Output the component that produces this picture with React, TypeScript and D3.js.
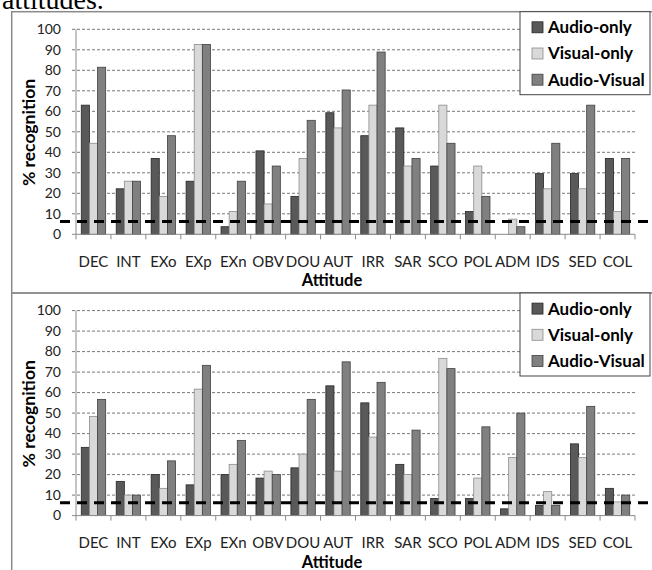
import React, { useEffect, useRef } from 'react'
import * as d3 from 'd3'

const categories = ['DEC', 'INT', 'EXo', 'EXp', 'EXn', 'OBV', 'DOU', 'AUT', 'IRR', 'SAR', 'SCO', 'POL', 'ADM', 'IDS', 'SED', 'COL']
const seriesNames = ['Audio-only', 'Visual-only', 'Audio-Visual']
const yTicks = [0, 10, 20, 30, 40, 50, 60, 70, 80, 90, 100]
const chanceLevel = 100 / 16

// upper panel (27 answers per attitude)
const topAudioOnly = [63.0, 22.2, 37.0, 25.9, 3.7, 40.7, 18.5, 59.3, 48.1, 51.9, 33.3, 11.1, 0, 29.6, 29.6, 37.0]
const topVisualOnly = [44.4, 25.9, 18.5, 92.6, 11.1, 14.8, 37.0, 51.9, 63.0, 33.3, 63.0, 33.3, 7.4, 22.2, 22.2, 11.1]
const topAudioVisual = [81.5, 25.9, 48.1, 92.6, 25.9, 33.3, 55.6, 70.4, 88.9, 37.0, 44.4, 18.5, 3.7, 44.4, 63.0, 37.0]

// lower panel (60 answers per attitude)
const bottomAudioOnly = [33.3, 16.7, 20.0, 15.0, 20.0, 18.3, 23.3, 63.3, 55.0, 25.0, 8.3, 8.3, 3.3, 5.0, 35.0, 13.3]
const bottomVisualOnly = [48.3, 10.0, 13.3, 61.7, 25.0, 21.7, 30.0, 21.7, 38.3, 20.0, 76.7, 18.3, 28.3, 11.7, 28.3, 6.7]
const bottomAudioVisual = [56.7, 10.0, 26.7, 73.3, 36.7, 20.0, 56.7, 75.0, 65.0, 41.7, 71.7, 43.3, 50.0, 5.0, 53.3, 10.0]

const fills = ['#595959', '#d9d9d9', '#808080']
const strokes = ['#262626', '#8c8c8c', '#404040']
const font = 'Lato, "Open Sans", sans-serif'

const W = 652
const H = 570

const App = () => {
	const ref = useRef<SVGSVGElement>(null)

	useEffect(() => {
		const svg = d3.select(ref.current)
		svg.selectAll('*').remove()

		// caption fragment cut at the top of the page
		svg.append('text')
			.attr('x', 2)
			.attr('y', 8.5)
			.style('font-family', '"Liberation Serif", "Times New Roman", serif')
			.style('font-size', '28px')
			.text('attitudes.')

		const panels = [
			[topAudioOnly, topVisualOnly, topAudioVisual],
			[bottomAudioOnly, bottomVisualOnly, bottomAudioVisual],
		]

		panels.forEach((values, p) => {
			const g = svg.append('g').attr('transform', `translate(0,${p * 281.3})`)

			// panel frame
			g.append('rect')
				.attr('x', 11.7)
				.attr('y', 11.7)
				.attr('width', 700)
				.attr('height', 281.3)
				.attr('fill', 'none')
				.attr('stroke', '#8a8a8a')
				.attr('stroke-width', 1.5)

			const y = d3.scaleLinear().domain([0, 100]).range([234.3, 29.3])
			const x0 = d3.scaleBand().domain(categories).range([76, 635]).paddingInner(0).paddingOuter(0)
			const x1 = d3.scaleBand().domain(seriesNames).range([0, x0.bandwidth()]).paddingInner(0).paddingOuter(0.65)

			// grid
			g.selectAll('.grid')
				.data(yTicks.filter(t => t > 0))
				.enter()
				.append('line')
				.attr('x1', 72)
				.attr('x2', 635)
				.attr('y1', d => y(d))
				.attr('y2', d => y(d))
				.attr('stroke', '#555')
				.attr('stroke-width', 0.8)
				.attr('stroke-dasharray', '3,2')

			// y tick labels
			g.selectAll('.ytick')
				.data(yTicks)
				.enter()
				.append('text')
				.attr('x', 61)
				.attr('y', d => y(d))
				.attr('dy', '0.35em')
				.attr('text-anchor', 'end')
				.style('font-family', font)
				.style('font-size', '14px')
				.attr('fill', '#222')
				.text(d => d)

			// bars
			seriesNames.forEach((s, si) => {
				g.selectAll('.bar' + si)
					.data(values[si])
					.enter()
					.append('rect')
					.attr('x', (d, i) => x0(categories[i])! + x1(s)!)
					.attr('y', d => y(d))
					.attr('width', x1.bandwidth())
					.attr('height', d => y(0) - y(d))
					.attr('fill', fills[si])
					.attr('stroke', strokes[si])
					.attr('stroke-width', 0.8)
					.style('display', d => (d > 0 ? null : 'none'))
			})

			// axes lines
			g.append('line')
				.attr('x1', 76).attr('x2', 76)
				.attr('y1', y(100)).attr('y2', y(0))
				.attr('stroke', '#8a8a8a')
			g.append('line')
				.attr('x1', 72).attr('x2', 635)
				.attr('y1', y(0)).attr('y2', y(0))
				.attr('stroke', '#8a8a8a')
			g.selectAll('.xtick')
				.data(categories.map((c, i) => i).concat([categories.length]))
				.enter()
				.append('line')
				.attr('x1', i => 76 + i * x0.step())
				.attr('x2', i => 76 + i * x0.step())
				.attr('y1', y(0))
				.attr('y2', y(0) + 5)
				.attr('stroke', '#8a8a8a')

			// category labels
			g.selectAll('.xlabel')
				.data(categories)
				.enter()
				.append('text')
				.attr('x', d => x0(d)! + x0.bandwidth() / 2)
				.attr('y', 261.7)
				.attr('dy', '0.35em')
				.attr('text-anchor', 'middle')
				.style('font-family', font)
				.style('font-size', '15px')
				.attr('fill', '#222')
				.text(d => d)

			// chance level
			g.append('line')
				.attr('x1', 60)
				.attr('x2', 650)
				.attr('y1', y(chanceLevel))
				.attr('y2', y(chanceLevel))
				.attr('stroke', '#000')
				.attr('stroke-width', 3)
				.attr('stroke-dasharray', '10,7')

			// axis titles
			g.append('text')
				.attr('x', 332)
				.attr('y', 280.5)
				.attr('dy', '0.35em')
				.attr('text-anchor', 'middle')
				.style('font-family', font)
				.style('font-size', '16.5px')
				.style('font-weight', 'bold')
				.text('Attitude')
			g.append('text')
				.attr('transform', 'translate(29,132.5) rotate(-90)')
				.attr('dy', '0.35em')
				.attr('text-anchor', 'middle')
				.style('font-family', font)
				.style('font-size', '17.5px')
				.style('font-weight', 'bold')
				.text('% recognition')

			// legend
			const lg = g.append('g')
			lg.append('rect')
				.attr('x', 520)
				.attr('y', 11.7)
				.attr('width', 130)
				.attr('height', 83)
				.attr('fill', '#fff')
				.attr('stroke', '#444')
				.attr('stroke-width', 1)
			seriesNames.forEach((s, si) => {
				const cy = 27.3 + si * 26.2
				lg.append('rect')
					.attr('x', 532)
					.attr('y', cy - 5.5)
					.attr('width', 11)
					.attr('height', 11)
					.attr('fill', fills[si])
					.attr('stroke', strokes[si])
					.attr('stroke-width', 0.8)
				lg.append('text')
					.attr('x', 548)
					.attr('y', cy)
					.attr('dy', '0.35em')
					.style('font-family', font)
					.style('font-size', '17px')
					.style('font-weight', 'bold')
					.text(s)
			})
		})
	}, [])

	return (
		<div style={{ position: 'absolute', left: 0, top: 0 }}>
			<svg ref={ref} width={W} height={H} style={{ display: 'block' }}></svg>
		</div>
	)
}

export default App
